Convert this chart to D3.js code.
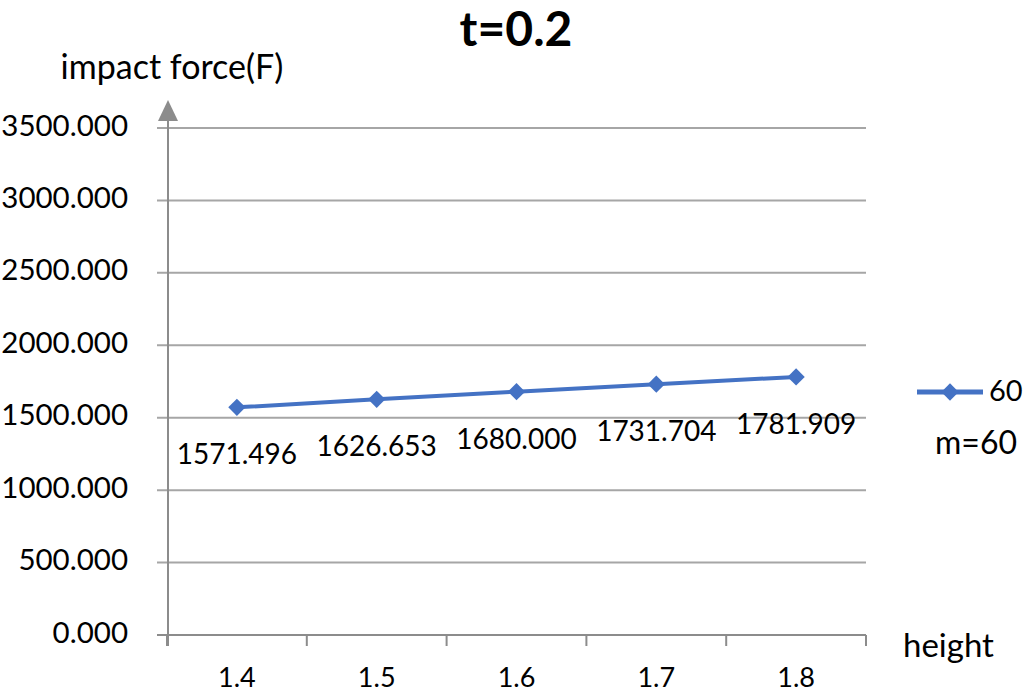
<!DOCTYPE html>
<html><head><meta charset="utf-8">
<script src="https://cdn.jsdelivr.net/npm/d3@7"></script>
<style>body{margin:0;background:#fff}svg{display:block}text{font-family:Lato,"Open Sans",sans-serif;fill:#000}</style>
</head><body>
<script>
const categories = ["1.4","1.5","1.6","1.7","1.8"];
const values = [1571.496, 1626.653, 1680.000, 1731.704, 1781.909];
const yTicks = [0,500,1000,1500,2000,2500,3000,3500];
const seriesName = "60";
const title = "t=0.2";

const W=1024,H=691;
const svg=d3.select("body").append("svg").attr("width",W).attr("height",H);
const x=d3.scaleBand().domain(categories).range([167,866]);
const y=d3.scaleLinear().domain([0,3500]).range([635,128]);
const grid="#a6a6a6", axisC="#8c8c8c";

// gridlines
svg.append("g").selectAll("line").data(yTicks.filter(d=>d>0)).join("line")
  .attr("x1",157).attr("x2",866).attr("y1",d=>y(d)).attr("y2",d=>y(d))
  .attr("stroke",grid).attr("stroke-width",2);
// y tick labels
svg.append("g").selectAll("text").data(yTicks).join("text")
  .attr("x",128).attr("y",d=>y(d)-3).attr("dy","0.36em").attr("text-anchor","end")
  .attr("font-size",29.5).text(d=>d3.format(".3f")(d));
// x axis
const xa=svg.append("g").attr("transform","translate(0,635)")
  .call(d3.axisBottom(x).tickSize(0).tickPadding(0));
xa.select(".domain").remove();
xa.selectAll("text").attr("font-size",27).attr("dy",null).attr("y",41)
  .attr("dominant-baseline","central").style("font-family","Lato,sans-serif").attr("fill","#000");
svg.append("line").attr("x1",157).attr("x2",866).attr("y1",635).attr("y2",635).attr("stroke",axisC).attr("stroke-width",2);
const bounds=categories.map(c=>x(c)).concat([x(categories[categories.length-1])+x.bandwidth()]);
svg.append("g").selectAll("line").data(bounds).join("line")
  .attr("x1",d=>d).attr("x2",d=>d).attr("y1",635).attr("y2",646).attr("stroke",axisC).attr("stroke-width",2);
// y axis line & arrow
svg.append("line").attr("x1",168).attr("x2",168).attr("y1",646).attr("y2",115).attr("stroke",axisC).attr("stroke-width",2);
svg.append("path").attr("d","M168,100 L158,121 L178,121 Z").attr("fill",axisC);

// line
const cx=d=>x(d)+x.bandwidth()/2;
const line=d3.line().x((d,i)=>cx(categories[i])).y(d=>y(d));
svg.append("path").datum(values).attr("d",line).attr("fill","none").attr("stroke","#4472C4").attr("stroke-width",4);
const diamond=d3.symbol().type(d3.symbolDiamond2).size(190);
svg.append("g").selectAll("path").data(values).join("path")
  .attr("transform",(d,i)=>`translate(${cx(categories[i])},${y(d)})`)
  .attr("d",diamond).attr("fill","#4472C4");
// data labels
svg.append("g").selectAll("text").data(values).join("text")
  .attr("x",(d,i)=>cx(categories[i])).attr("y",d=>y(d)+47).attr("dy","0.36em")
  .attr("text-anchor","middle").attr("font-size",28).text(d=>d3.format(".3f")(d));

// titles
svg.append("text").attr("x",516).attr("y",46).attr("text-anchor","middle")
  .attr("font-size",48).attr("font-weight","bold").text(title);
svg.append("text").attr("x",172).attr("y",67).attr("dy","0.36em").attr("text-anchor","middle")
  .attr("font-size",34).text("impact force(F)");
svg.append("text").attr("x",903).attr("y",645).attr("dy","0.36em")
  .attr("font-size",33).text("height");

// legend
svg.append("line").attr("x1",917).attr("x2",983).attr("y1",392).attr("y2",392).attr("stroke","#4472C4").attr("stroke-width",5);
svg.append("path").attr("transform","translate(950,392)").attr("d",diamond).attr("fill","#4472C4");
svg.append("text").attr("x",989).attr("y",391).attr("dy","0.36em").attr("font-size",29).text(seriesName);
svg.append("text").attr("x",935).attr("y",442).attr("dy","0.36em").attr("font-size",32).text("m="+seriesName);
</script>
</body></html>
